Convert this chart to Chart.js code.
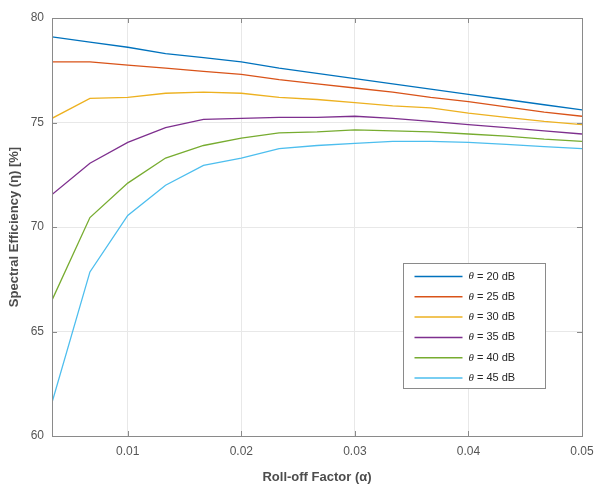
<!DOCTYPE html>
<html>
<head>
<meta charset="utf-8">
<script src="https://cdn.jsdelivr.net/npm/chart.js@4/dist/chart.umd.min.js"></script>
<style>
  html, body { margin: 0; padding: 0; background: #fff; }
  #wrap { width: 594px; height: 485px; }
</style>
</head>
<body>
<div id="wrap"><canvas id="myChart"></canvas></div>
<script>
// roll-off factor samples (k/300)
const rolloff = [0.00333, 0.00667, 0.01, 0.01333, 0.01667, 0.02, 0.02333, 0.02667,
    0.03, 0.03333, 0.03667, 0.04, 0.04333, 0.04667, 0.05];
const seriesNames = ['20 dB', '25 dB', '30 dB', '35 dB', '40 dB', '45 dB'];
const eff20 = [79.1, 78.85, 78.6, 78.3, 78.1, 77.9, 77.6, 77.35, 77.1, 76.85, 76.6, 76.35, 76.1, 75.85, 75.6];
const eff25 = [77.9, 77.9, 77.75, 77.6, 77.45, 77.3, 77.05, 76.85, 76.65, 76.45, 76.2, 76.0, 75.75, 75.5, 75.3];
const eff30 = [75.2, 76.15, 76.2, 76.4, 76.45, 76.4, 76.2, 76.1, 75.95, 75.8, 75.7, 75.45, 75.25, 75.05, 74.9];
const eff35 = [71.55, 73.05, 74.05, 74.75, 75.15, 75.2, 75.25, 75.25, 75.3, 75.2, 75.05, 74.9, 74.75, 74.6, 74.45];
const eff40 = [66.5, 70.45, 72.1, 73.3, 73.9, 74.25, 74.5, 74.55, 74.65, 74.6, 74.55, 74.45, 74.35, 74.2, 74.1];
const eff45 = [61.6, 67.85, 70.55, 72.0, 72.95, 73.3, 73.75, 73.9, 74.0, 74.1, 74.1, 74.05, 73.95, 73.85, 73.75];
const xTicks = [0.01, 0.02, 0.03, 0.04, 0.05];
const yTicks = [60, 65, 70, 75, 80];

const colors = ['#0072BD', '#D95319', '#EDB120', '#7E2F8E', '#77AC30', '#4DBEEE'];
const allSeries = [eff20, eff25, eff30, eff35, eff40, eff45];

const datasets = allSeries.map((ys, i) => {
    return {
        label: seriesNames[i],
        data: ys.map((y, j) => ({ x: rolloff[j], y: y })),
        borderColor: colors[i],
        borderWidth: 1.3,
        pointRadius: 0,
        fill: false,
        tension: 0,
    };
});

// frame, inward ticks and the legend box inside the axes (MATLAB look)
const matlabBits = {
    id: 'matlabBits',
    afterDatasetsDraw(chart) {
        const ctx = chart.ctx;
        const a = chart.chartArea;
        const xs = chart.scales.x, ys = chart.scales.y;
        ctx.save();
        ctx.strokeStyle = '#8a8a8a';
        ctx.lineWidth = 1;
        ctx.beginPath();
        xTicks.forEach((t) => {
            const px = Math.round(xs.getPixelForValue(t)) + 0.5;
            ctx.moveTo(px, a.bottom); ctx.lineTo(px, a.bottom - 5);
            ctx.moveTo(px, a.top); ctx.lineTo(px, a.top + 5);
        });
        yTicks.forEach((t) => {
            const py = Math.round(ys.getPixelForValue(t)) + 0.5;
            ctx.moveTo(a.left, py); ctx.lineTo(a.left + 5, py);
            ctx.moveTo(a.right, py); ctx.lineTo(a.right - 5, py);
        });
        ctx.stroke();
        ctx.strokeRect(Math.round(a.left) + 0.5, Math.round(a.top) + 0.5,
            Math.round(a.right - a.left), Math.round(a.bottom - a.top));

        // legend
        const bx = 403.5, by = 263.5, bw = 142, bh = 125;
        ctx.fillStyle = '#fff';
        ctx.fillRect(bx, by, bw, bh);
        ctx.strokeStyle = '#8a8a8a';
        ctx.strokeRect(bx, by, bw, bh);
        chart.data.datasets.forEach((ds, i) => {
            const y = by + 13 + i * 20.3;
            ctx.strokeStyle = ds.borderColor;
            ctx.lineWidth = 1.5;
            ctx.beginPath();
            ctx.moveTo(bx + 11, y); ctx.lineTo(bx + 59, y);
            ctx.stroke();
            ctx.textBaseline = 'middle';
            ctx.fillStyle = '#262626';
            ctx.font = 'italic 11px "Liberation Serif"';
            ctx.fillText('θ', bx + 65, y);
            const w = ctx.measureText('θ').width;
            ctx.font = '11px "Liberation Sans"';
            ctx.fillText(' = ' + ds.label, bx + 65 + w, y);
        });
        ctx.restore();
    }
};

const config = {
    type: 'line',
    data: { datasets: datasets },
    options: {
        responsive: true,
        maintainAspectRatio: false,
        animation: false,
        layout: { padding: { top: 18, right: 12, left: 0, bottom: 0 } },
        plugins: {
            legend: { display: false },
            tooltip: { enabled: false },
        },
        scales: {
            x: {
                type: 'linear',
                min: rolloff[0],
                max: 0.05,
                afterBuildTicks: (s) => { s.ticks = xTicks.map((v) => ({ value: v })); },
                afterFit: (s) => { s.height = 49; s.paddingRight = 0; s.paddingLeft = 0; },
                grid: { color: '#e8e8e8', drawTicks: false },
                border: { display: false },
                ticks: {
                    padding: 8,
                    color: '#555555',
                    font: { family: 'Liberation Sans', size: 12 },
                    callback: (v) => v.toFixed(2),
                    maxRotation: 0,
                },
                title: {
                    display: true,
                    text: 'Roll-off Factor (α)',
                    color: '#4d4d4d',
                    font: { family: 'Liberation Sans', size: 13, weight: 'bold' },
                    padding: { top: 6, bottom: 0 },
                },
            },
            y: {
                min: 60,
                max: 80,
                afterBuildTicks: (s) => { s.ticks = yTicks.map((v) => ({ value: v })); },
                afterFit: (s) => { s.width = 52; },
                grid: { color: '#e8e8e8', drawTicks: false },
                border: { display: false },
                ticks: {
                    padding: 8,
                    color: '#555555',
                    font: { family: 'Liberation Sans', size: 12 },
                },
                title: {
                    display: true,
                    text: 'Spectral Efficiency (η) [%]',
                    color: '#4d4d4d',
                    font: { family: 'Liberation Sans', size: 13, weight: 'bold' },
                    padding: { top: 7, bottom: 0 },
                },
            },
        },
    },
    plugins: [matlabBits],
};

const myChart = new Chart(document.getElementById('myChart'), config);
</script>
</body>
</html>
